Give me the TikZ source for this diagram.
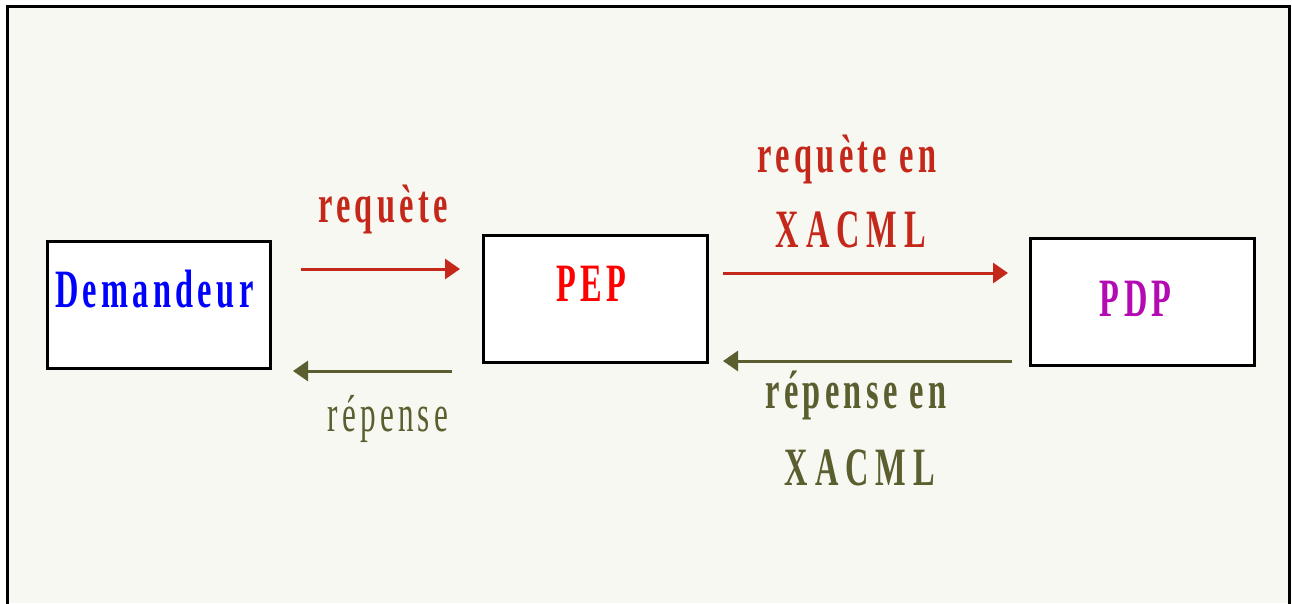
\documentclass[tikz,border=0pt]{standalone}
\usepackage{fontspec}
\usetikzlibrary{arrows.meta}
\newfontfamily\narrowserif[FakeStretch=0.6,LetterSpace=8]{Liberation Serif}
\newfontfamily\narrowwide[FakeStretch=0.6,LetterSpace=13]{Liberation Serif}

\definecolor{pagebg}{HTML}{F8F8F2}
\definecolor{reqred}{HTML}{C4281A}
\definecolor{repolive}{HTML}{5B5E2E}
\definecolor{pdpmag}{HTML}{B40AB4}

\begin{document}
\begin{tikzpicture}[x=1pt,y=1pt,
  box/.style={draw=black,line width=2.5pt,fill=white,inner sep=0pt,
    minimum width=223pt,anchor=north west,
    font=\narrowserif\bfseries\fontsize{54}{54}\selectfont},
  lab/.style={anchor=base,inner sep=0pt,
    font=\narrowserif\bfseries\fontsize{54}{54}\selectfont},
  acro/.style={anchor=base,inner sep=0pt,
    font=\narrowwide\bfseries\fontsize{54}{54}\selectfont},
  labthin/.style={anchor=base,inner sep=0pt,
    font=\narrowserif\fontsize{52}{52}\selectfont},
  reqarrow/.style={draw=reqred,line width=3pt,-{Triangle[length=15pt,width=20pt]}},
  reparrow/.style={draw=repolive,line width=3pt,-{Triangle[length=15pt,width=20pt]}}
]
\useasboundingbox (0,0) rectangle (1292,-603);
\fill[white] (0,0) rectangle (1292,-603);
% frame of the slide
\fill[pagebg] (7,-6.5) rectangle (1289.5,-603);
\draw[line width=3pt] (7,-604) -- (7,-6.5) -- (1289.5,-6.5) -- (1289.5,-604);

% the three parties
\node[box,text height=66pt,text depth=61pt,text=blue] (dem) at (46,-240) {Demandeur\kern9pt};
\node[box,text height=66pt,text depth=61pt,text=red,minimum width=224pt] (pep) at (482,-234) {PEP\kern7pt};
\node[box,text height=78pt,text depth=49pt,text=pdpmag,minimum width=224pt] (pdp) at (1029,-237) {PDP\kern13pt};

% arrow end points
\coordinate (r1s) at (301,-269);
\coordinate (r1e) at (460,-269);
\coordinate (p1s) at (452,-371);
\coordinate (p1e) at (293,-371);
\coordinate (r2s) at (723,-273);
\coordinate (r2e) at (1008,-273);
\coordinate (p2s) at (1012,-361);
\coordinate (p2e) at (723,-361);

\draw[reqarrow] (r1s) -- (r1e);
\draw[reparrow] (p1s) -- (p1e);
\draw[reqarrow] (r2s) -- (r2e);
\draw[reparrow] (p2s) -- (p2e);

% labels
\node[lab,text=reqred] (l1) at (383,-222) {requète};
\node[labthin,text=repolive] (l2) at (388,-431) {répense};
\node[lab,text=reqred] (l3) at (847,-172) {requète en};
\node[acro,text=reqred] (l4) at (851,-247) {XACML};
\node[lab,text=repolive] (l5) at (856,-408) {répense en};
\node[acro,text=repolive] (l6) at (860,-485) {XACML};
\end{tikzpicture}
\end{document}
